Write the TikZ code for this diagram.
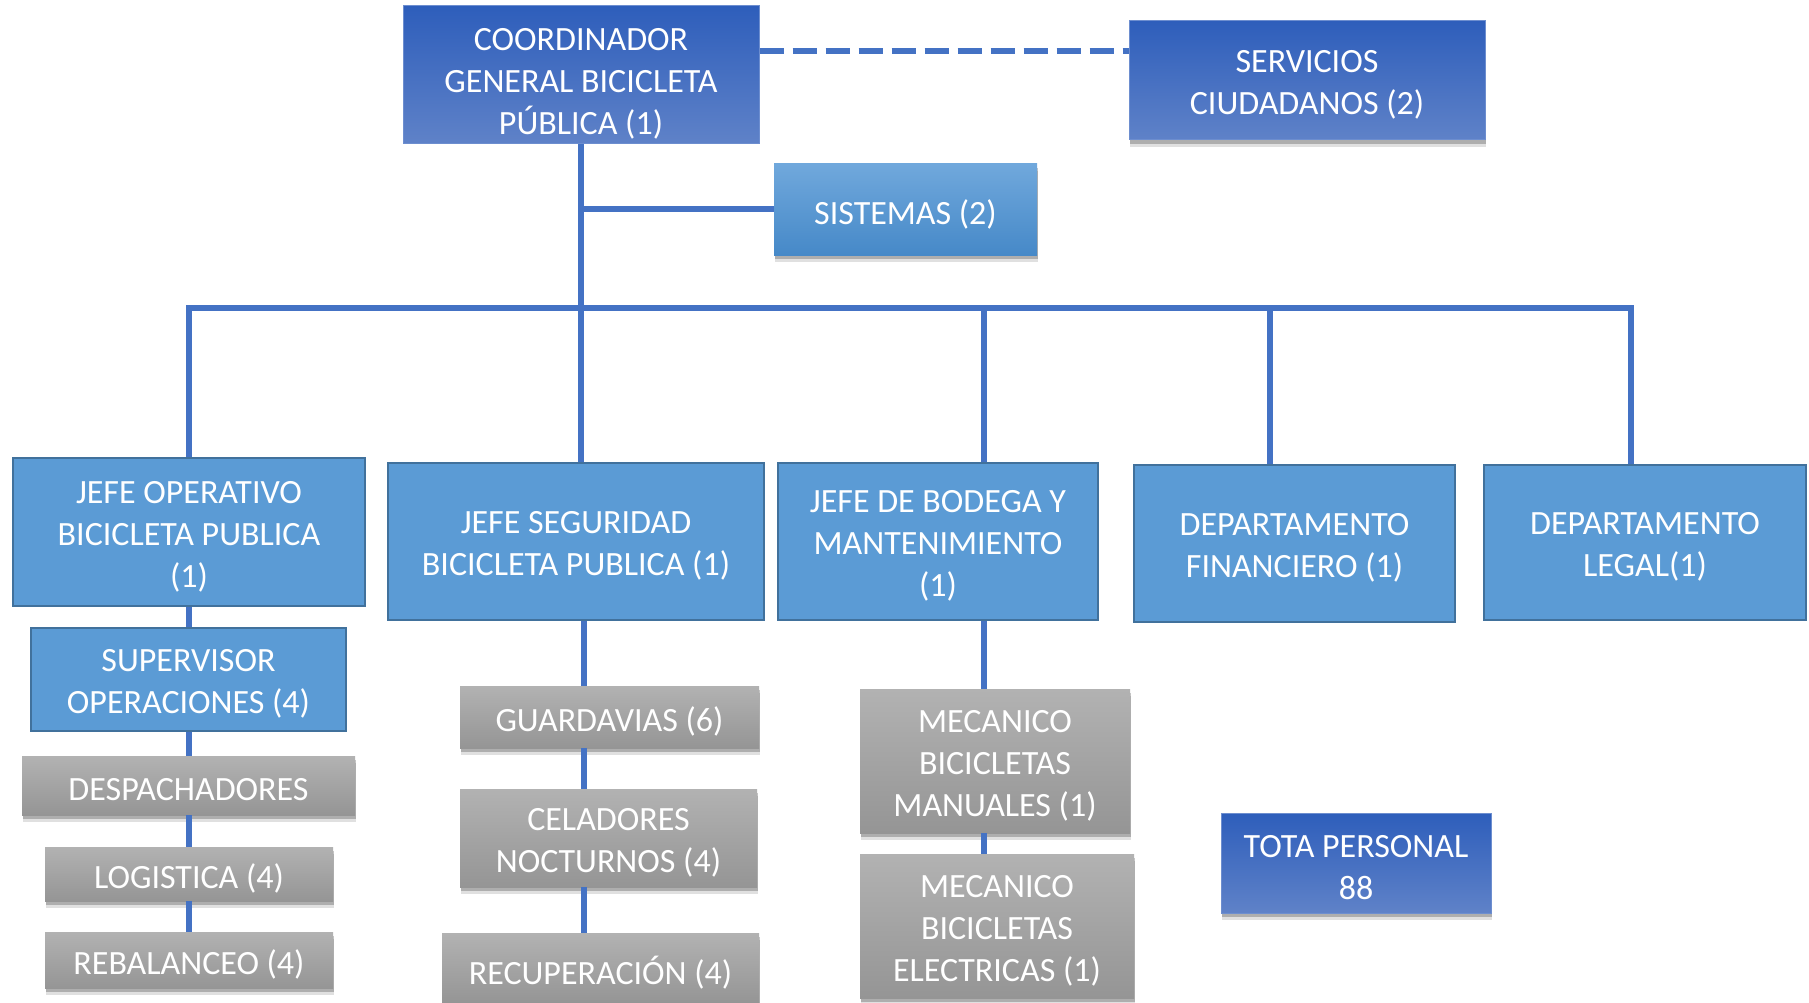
\documentclass[tikz,border=0pt]{standalone}
\usepackage{fontspec}
\setmainfont{Carlito}
\usetikzlibrary{shadows}
\definecolor{lineblue}{HTML}{4472C4}
\definecolor{lblue}{HTML}{5B9BD5}
\definecolor{lborder}{HTML}{41719C}
\definecolor{dtop}{HTML}{2E5EBB}
\definecolor{dbot}{HTML}{5F82C8}
\definecolor{stop}{HTML}{70A8DC}
\definecolor{sbot}{HTML}{4689C8}
\definecolor{gtop}{HTML}{B2B2B2}
\definecolor{gbot}{HTML}{959595}
\tikzset{
  basetext/.style={inner sep=0pt, align=center, text=white,
    font=\fontsize{34}{42}\selectfont},
  boxtext/.style={label={[basetext, yshift=-4.5pt]center:#1}},
  basebox/.style={rectangle, inner sep=0pt},
  shad/.style={drop shadow={shadow xshift=1pt, shadow yshift=-7pt, opacity=0.12, fill=black},
               drop shadow={shadow xshift=0.5pt, shadow yshift=-4pt, opacity=0.22, fill=black}},
  lbox/.style={basebox, fill=lblue, draw=lborder, line width=2.5pt},
  dbox/.style={basebox, top color=dtop, bottom color=dbot, draw=dtop!70!white, line width=1pt},
  sbox/.style={basebox, shad, top color=stop, bottom color=sbot},
  gbox/.style={basebox, shad, top color=gtop, bottom color=gbot},
  conn/.style={draw=lineblue, line width=6pt},
  dashconn/.style={draw=lineblue, line width=6pt, dash pattern=on 24pt off 9pt},
}
\begin{document}
\begin{tikzpicture}[x=1pt,y=-1pt]
\useasboundingbox (0,0) rectangle (1809,1003);
\fill[white] (0,0) rectangle (1809,1003);

% coordinates for connector lines
\coordinate (bus) at (0,308);
\coordinate (dl) at (0,51);
\coordinate (xm) at (584,0);
\coordinate (xb) at (984,0);
\coordinate (xf) at (1270,0);
\coordinate (xl) at (1631,0);

% top
\node[dbox, minimum width=356pt, minimum height=138pt,
      label={[basetext, yshift=-9pt]center:COORDINADOR\\GENERAL BICICLETA\\PÚBLICA (1)}] (coord) at (581,75) {};
\node[dbox, shad, minimum width=356pt, minimum height=119pt, boxtext={SERVICIOS\\CIUDADANOS (2)}] (serv) at (1307,80.5) {};
\node[sbox, minimum width=263pt, minimum height=91pt, boxtext={SISTEMAS (2)}] (sist) at (905.5,209.5) {};

% second row
\node[lbox, minimum width=352pt, minimum height=148pt, boxtext={JEFE OPERATIVO\\BICICLETA PUBLICA\\(1)}] (jop) at (189,532) {};
\node[lbox, minimum width=376pt, minimum height=157pt, boxtext={JEFE SEGURIDAD\\BICICLETA PUBLICA (1)}] (jseg) at (576,541.5) {};
\node[lbox, minimum width=320pt, minimum height=157pt, boxtext={JEFE DE BODEGA Y\\MANTENIMIENTO\\(1)}] (jbod) at (938,541.5) {};
\node[lbox, minimum width=321pt, minimum height=157pt, boxtext={DEPARTAMENTO\\FINANCIERO (1)}] (dfin) at (1294.5,543.5) {};
\node[lbox, minimum width=322pt, minimum height=155pt, boxtext={DEPARTAMENTO\\LEGAL(1)}] (dleg) at (1645,542.5) {};

% left column
\node[lbox, minimum width=315pt, minimum height=103pt, boxtext={SUPERVISOR\\OPERACIONES (4)}] (sup) at (188.5,679.5) {};
\node[gbox, minimum width=333pt, minimum height=59pt, boxtext={DESPACHADORES}] (desp) at (188.5,785.5) {};
\node[gbox, minimum width=288pt, minimum height=54pt, boxtext={LOGISTICA (4)}] (log) at (189,874) {};
\node[gbox, minimum width=288pt, minimum height=56pt, boxtext={REBALANCEO (4)}] (reb) at (189,960) {};

% middle column
\node[gbox, minimum width=299pt, minimum height=62pt, boxtext={GUARDAVIAS (6)}] (guard) at (609.5,717) {};
\node[gbox, minimum width=297pt, minimum height=98pt, boxtext={CELADORES\\NOCTURNOS (4)}] (cel) at (608.5,838) {};
\node[gbox, minimum width=317pt, minimum height=70pt, boxtext={RECUPERACIÓN (4)}] (recup) at (600.5,968) {};

% right column
\node[gbox, minimum width=270pt, minimum height=144pt, boxtext={MECANICO\\BICICLETAS\\MANUALES (1)}] (mman) at (995,761) {};
\node[gbox, minimum width=274pt, minimum height=144pt, boxtext={MECANICO\\BICICLETAS\\ELECTRICAS (1)}] (mele) at (997,926) {};

% total
\node[dbox, shad, minimum width=270pt, minimum height=100pt, boxtext={TOTA PERSONAL\\88}] (total) at (1356,863) {};

% connectors
\draw[dashconn] (coord.east |- dl) -- (serv.west |- dl);
\draw[conn] (coord.south) -- (coord.south |- jseg.north);
\draw[conn] (coord.south |- sist.west) -- (sist.west);
\draw[conn] (jop.north) -- (jop.north |- bus) -- (xl |- bus) -- (xl |- dleg.north);
\draw[conn] (xb |- bus) -- (xb |- jbod.north);
\draw[conn] (xf |- bus) -- (xf |- dfin.north);

\draw[conn] (jop.south) -- (sup.north -| jop.south);
\draw[conn] (sup.south -| jop.south) -- (desp.north -| jop.south);
\draw[conn] (desp.south -| jop.south) -- (log.north -| jop.south);
\draw[conn] (log.south -| jop.south) -- (reb.north -| jop.south);
\draw[conn] (xm |- jseg.south) -- (xm |- guard.north);
\draw[conn] (xm |- guard.south) -- (xm |- cel.north);
\draw[conn] (xm |- cel.south) -- (xm |- recup.north);
\draw[conn] (xb |- jbod.south) -- (xb |- mman.north);
\draw[conn] (xb |- mman.south) -- (xb |- mele.north);
\end{tikzpicture}
\end{document}
